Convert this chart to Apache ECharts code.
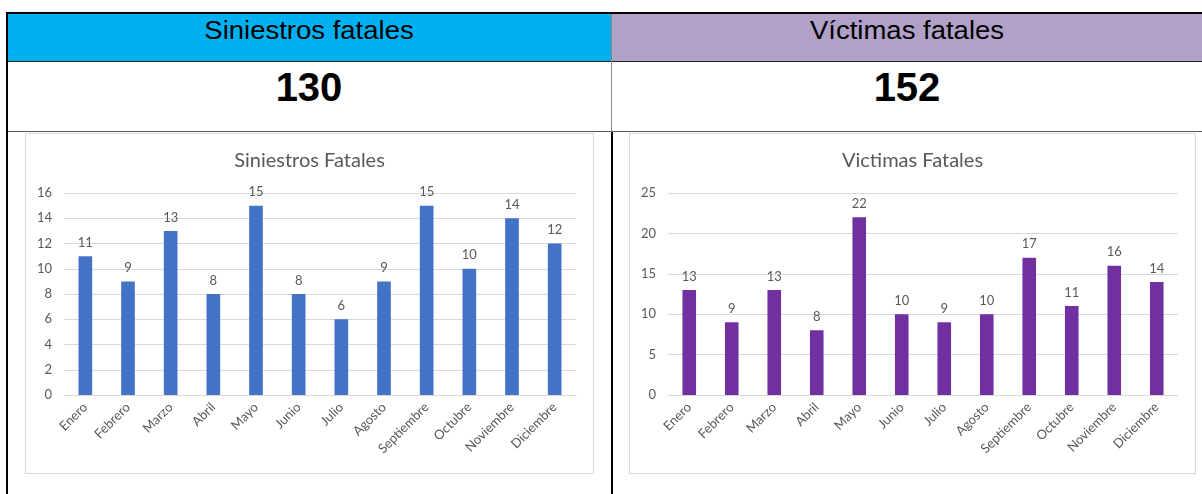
<!DOCTYPE html>
<html>
<head>
<meta charset="utf-8">
<script src="https://cdn.jsdelivr.net/npm/echarts@6/dist/echarts.min.js"></script>
<style>
  html, body { margin: 0; padding: 0; background: #fff; }
  body { width: 1202px; height: 494px; position: relative; overflow: hidden; font-family: "Liberation Sans", Arial, sans-serif; }
  .abs { position: absolute; }
  .hdr { top: 13px; height: 49px; }
  .hdr-text { position: absolute; left: 0; right: 0; text-align: center; font-size: 25px; line-height: 25px; top: 5px; color: #000; transform: scaleX(1.1); }
  .num-text { position: absolute; left: 0; right: 0; text-align: center; font-size: 40px; line-height: 40px; font-weight: bold; top: 5px; color: #000; }
  .chart { border: 1px solid #d9d9d9; box-sizing: border-box; background: #fff; }
</style>
</head>
<body>
<!-- summary table -->
<div class="abs hdr" style="left:7px; width:604px; background:#00B0F0;"><div class="hdr-text" id="h1"></div></div>
<div class="abs hdr" style="left:612px; width:590px; background:#B1A0C7;"><div class="hdr-text" id="h2"></div></div>
<div class="abs" style="left:7px; top:62px; width:604px; height:70px;"><div class="num-text" id="n1"></div></div>
<div class="abs" style="left:612px; top:62px; width:590px; height:70px;"><div class="num-text" id="n2"></div></div>

<!-- table rules -->
<div class="abs" style="left:7px; top:12px; width:1195px; height:2px; background:#000;"></div>
<div class="abs" style="left:7px; top:61px; width:1195px; height:1px; background:#222;"></div>
<div class="abs" style="left:7px; top:131px; width:1195px; height:1px; background:#555;"></div>
<div class="abs" style="left:6px; top:12px; width:2px; height:482px; background:#000;"></div>
<div class="abs" style="left:611px; top:14px; width:1px; height:118px; background:#888;"></div>
<div class="abs" style="left:611px; top:132px; width:2px; height:362px; background:#000;"></div>

<!-- charts -->
<div class="abs chart" id="c1" style="left:25px; top:133px; width:569px; height:341px;"></div>
<div class="abs chart" id="c2" style="left:629px; top:133px; width:567px; height:341px;"></div>

<script>
const headers = ['Siniestros fatales', 'Víctimas fatales'];
const totals = ['130', '152'];
const months = ['Enero', 'Febrero', 'Marzo', 'Abril', 'Mayo', 'Junio', 'Julio', 'Agosto', 'Septiembre', 'Octubre', 'Noviembre', 'Diciembre'];
const siniestros = [11, 9, 13, 8, 15, 8, 6, 9, 15, 10, 14, 12];
const victimas = [13, 9, 13, 8, 22, 10, 9, 10, 17, 11, 16, 14];

document.getElementById('h1').textContent = headers[0];
document.getElementById('h2').textContent = headers[1];
document.getElementById('n1').textContent = totals[0];
document.getElementById('n2').textContent = totals[1];

const font = 'Lato, "Open Sans", sans-serif';
const gray = '#595959';

function barOption(title, data, color, max, interval) {
  return {
    animation: false,
    title: {
      text: title, left: 'center', top: 12,
      textStyle: { fontFamily: font, fontSize: 20, fontWeight: 'normal', color: gray }
    },
    grid: { left: 38, right: 17, top: 59, bottom: 78 },
    xAxis: {
      type: 'category', data: months,
      axisLine: { lineStyle: { color: '#d9d9d9', width: 1 } },
      axisTick: { show: false },
      axisLabel: { rotate: 45, fontFamily: font, fontSize: 13, color: gray, margin: 10, interval: 0 }
    },
    yAxis: {
      type: 'value', min: 0, max: max, interval: interval,
      axisLine: { show: false }, axisTick: { show: false },
      splitLine: { lineStyle: { color: '#d9d9d9', width: 1 } },
      axisLabel: { fontFamily: font, fontSize: 13, color: gray, margin: 12 }
    },
    series: [{
      type: 'bar', data: data, barWidth: '32%',
      itemStyle: { color: color },
      label: { show: true, position: 'top', distance: 7, fontFamily: font, fontSize: 13, color: gray }
    }]
  };
}

echarts.init(document.getElementById('c1'), null, { renderer: 'canvas' })
  .setOption(barOption('Siniestros Fatales', siniestros, '#4472C4', 16, 2));
echarts.init(document.getElementById('c2'), null, { renderer: 'canvas' })
  .setOption(barOption('Victimas Fatales', victimas, '#7030A0', 25, 5));
</script>
</body>
</html>
